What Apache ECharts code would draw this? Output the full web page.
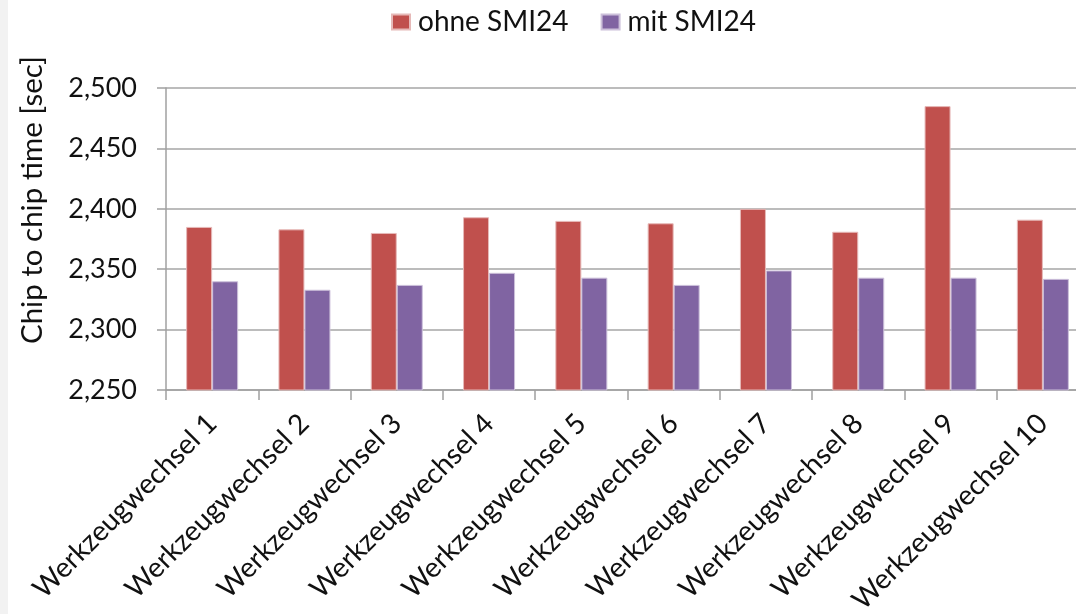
<!DOCTYPE html>
<html>
<head>
<meta charset="utf-8">
<script src="https://cdn.jsdelivr.net/npm/echarts@6/dist/echarts.min.js"></script>
<style>
html,body{margin:0;padding:0;background:#fff;}
#chart{width:1076px;height:614px;}
</style>
</head>
<body>
<div id="chart"></div>
<script>
const categories = ["Werkzeugwechsel 1","Werkzeugwechsel 2","Werkzeugwechsel 3","Werkzeugwechsel 4","Werkzeugwechsel 5","Werkzeugwechsel 6","Werkzeugwechsel 7","Werkzeugwechsel 8","Werkzeugwechsel 9","Werkzeugwechsel 10"];
const ohneSMI24 = [2385, 2383, 2380, 2393, 2390, 2388, 2400, 2381, 2485, 2391];
const mitSMI24 = [2340, 2333, 2337, 2347, 2343, 2337, 2349, 2343, 2343, 2342];
const seriesNames = ["ohne SMI24", "mit SMI24"];
const yTitle = "Chip to chip time [sec]";

const FONT = "Lato";
const chart = echarts.init(document.getElementById('chart'));
chart.setOption({
  backgroundColor: '#ffffff',
  animation: false,
  textStyle: { fontFamily: FONT },
  legend: {
    left: 391, top: 8, padding: 0,
    itemWidth: 18, itemHeight: 15, itemGap: 32,
    icon: 'rect',
    textStyle: { fontFamily: FONT, fontSize: 28, color: '#111', padding: [0,0,0,3] },
    data: seriesNames
  },
  grid: { left: 166, right: -13, top: 88, bottom: 224, containLabel: false, outerBoundsMode: 'none' },
  xAxis: {
    type: 'category',
    data: categories,
    axisLine: { show: true, lineStyle: { color: '#a0a0a0', width: 1.5 } },
    axisTick: { show: true, length: 10, alignWithLabel: false, lineStyle: { color: '#a0a0a0', width: 1.5 } },
    axisLabel: {
      rotate: 45, interval: 0, margin: 29,
      fontFamily: FONT, fontSize: 28, color: '#111',
      align: 'right', verticalAlign: 'middle'
    }
  },
  yAxis: {
    type: 'value',
    min: 2250, max: 2500, interval: 50,
    axisLine: { show: true, lineStyle: { color: '#a0a0a0', width: 1.5 } },
    axisTick: { show: true, length: 9, lineStyle: { color: '#a0a0a0', width: 1.5 } },
    splitLine: { show: true, lineStyle: { color: '#a6a6a6', width: 1.5 } },
    axisLabel: {
      margin: 29, fontFamily: FONT, fontSize: 27, color: '#111',
      formatter: v => v.toLocaleString('en-US')
    }
  },
  graphic: [
    { type: 'rect', left: 0, top: 0, shape: { width: 8, height: 614 }, style: { fill: '#f2f2f2' }, z: 0 },
    { type: 'text', x: 32, y: 200, rotation: Math.PI / 2,
      style: { text: yTitle, fontFamily: FONT, fontSize: 29.5, fill: '#111', align: 'center', verticalAlign: 'middle' } }
  ],
  series: [
    { name: seriesNames[0], type: 'bar', data: ohneSMI24, barWidth: 26, barGap: '0%',
      itemStyle: { color: '#c0504d', borderColor: '#e6b9b8', borderWidth: 1 } },
    { name: seriesNames[1], type: 'bar', data: mitSMI24, barWidth: 26, barGap: '0%',
      itemStyle: { color: '#8064a2', borderColor: '#ccc0da', borderWidth: 1 } }
  ]
});
</script>
</body>
</html>
